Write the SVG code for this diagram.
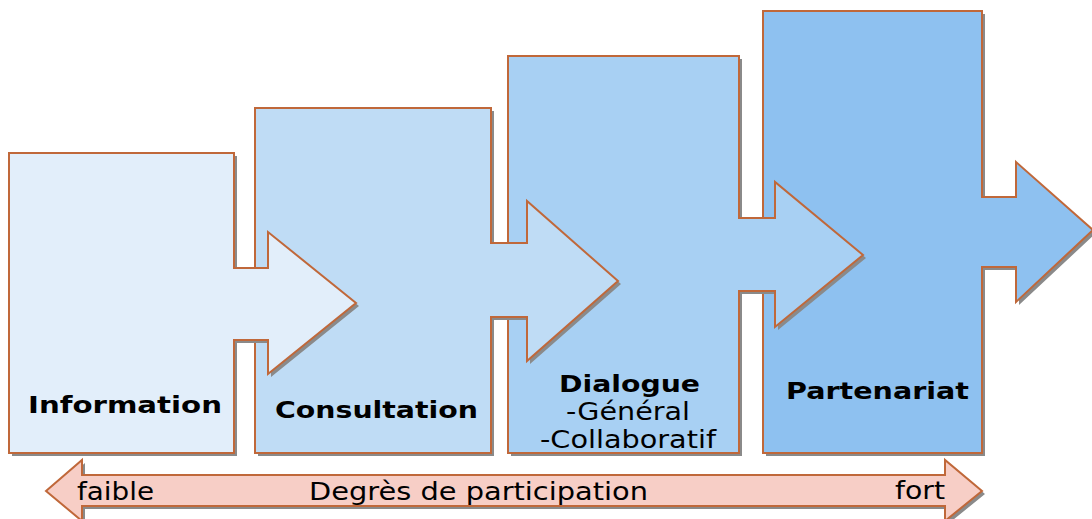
<svg xmlns="http://www.w3.org/2000/svg" width="1092" height="519" viewBox="0 0 1092 519">
<style>
.sh{fill:#8a8a8a}
.st{stroke:#C0683A;stroke-width:2;stroke-linejoin:miter}
.b{font-family:"DejaVu Sans",Verdana,sans-serif;font-weight:bold;font-size:23.5px;fill:#000}
.n{font-family:"DejaVu Sans",Verdana,sans-serif;font-size:24px;fill:#000}
</style>
<rect width="1092" height="519" fill="#fff"/>
<g id="partenariat">
<path class="sh" transform="translate(3,3)" d="M763,11 H982 V197 H1016 V162 L1093,230 L1016,302 V267 H982 V453 H763 Z"/>
<path class="st" fill="#8EC1F0" d="M763,11 H982 V197 H1016 V162 L1093,230 L1016,302 V267 H982 V453 H763 Z"/>
<text class="b" x="786" y="399" textLength="183" lengthAdjust="spacingAndGlyphs">Partenariat</text>
</g>
<g id="dialogue">
<path class="sh" transform="translate(3,3)" d="M508,56 H739 V218 H775 V182 L863,255 L775,327 V291 H739 V453 H508 Z"/>
<path class="st" fill="#A8D0F3" d="M508,56 H739 V218 H775 V182 L863,255 L775,327 V291 H739 V453 H508 Z"/>
<text class="b" x="559" y="392" textLength="141" lengthAdjust="spacingAndGlyphs">Dialogue</text>
<text class="n" x="566" y="420" textLength="124" lengthAdjust="spacingAndGlyphs">-Général</text>
<text class="n" x="540" y="448" textLength="176" lengthAdjust="spacingAndGlyphs">-Collaboratif</text>
</g>
<g id="consultation">
<path class="sh" transform="translate(3,3)" d="M255,108 H491 V243 H527 V201 L618,281 L527,361 V317 H491 V453 H255 Z"/>
<path class="st" fill="#BFDCF5" d="M255,108 H491 V243 H527 V201 L618,281 L527,361 V317 H491 V453 H255 Z"/>
<text class="b" x="275" y="418" textLength="203" lengthAdjust="spacingAndGlyphs">Consultation</text>
</g>
<g id="information">
<path class="sh" transform="translate(3,3)" d="M9,153 H234 V268 H268 V232 L356,303 L268,374 V340 H234 V453 H9 Z"/>
<path class="st" fill="#E2EEFA" d="M9,153 H234 V268 H268 V232 L356,303 L268,374 V340 H234 V453 H9 Z"/>
<text class="b" x="28" y="413" textLength="194" lengthAdjust="spacingAndGlyphs">Information</text>
</g>
<g id="connectors">
<g id="degres">
<path class="sh" transform="translate(3,3)" d="M46,491 L82,460 V475 H945 V460 L982,491 L945,521 V506 H82 V521 Z"/>
<path class="st" fill="#F7CEC6" d="M46,491 L82,460 V475 H945 V460 L982,491 L945,521 V506 H82 V521 Z"/>
<text class="n" x="77" y="500" textLength="77" lengthAdjust="spacingAndGlyphs">faible</text>
<text class="n" x="309" y="500" textLength="339" lengthAdjust="spacingAndGlyphs">Degrès de participation</text>
<text class="n" x="895" y="499" textLength="50" lengthAdjust="spacingAndGlyphs">fort</text>
</g>
</g>
</svg>
